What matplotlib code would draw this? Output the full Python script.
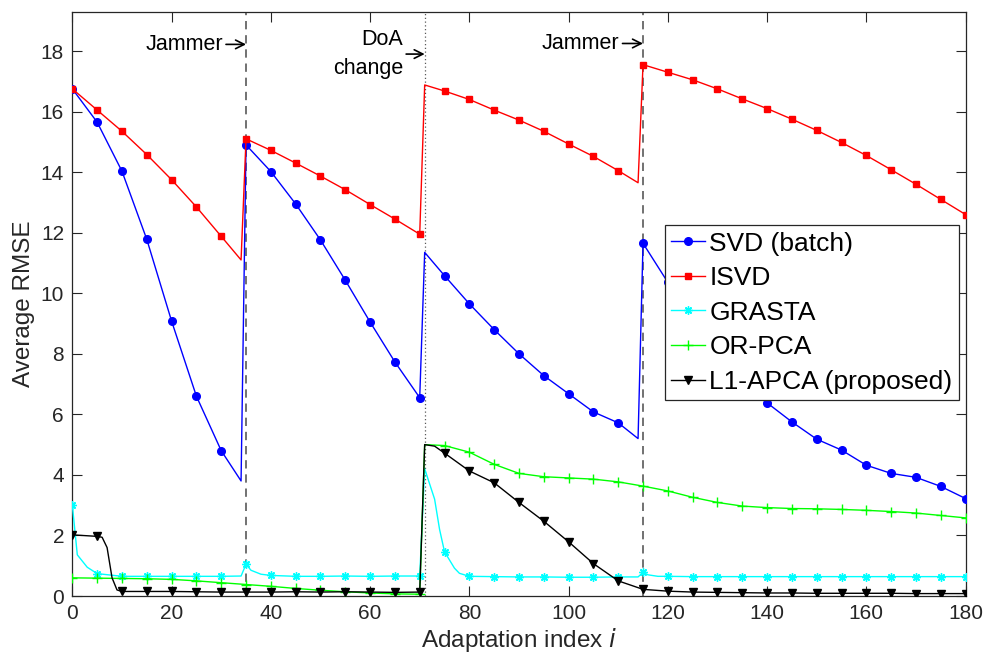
import numpy as np
import matplotlib
matplotlib.use('Agg')
from matplotlib import pyplot as plt

plt.rcParams['font.family'] = ['Liberation Sans', 'DejaVu Sans']

# SVD (batch)
svd_x = [0, 5, 10, 15, 20, 25, 30, 34, 35, 40, 45, 50, 55, 60, 65, 70, 71, 75, 80, 85, 90, 95, 100, 105, 110, 114,
         115, 120, 125, 130, 135, 140, 145, 150, 155, 160, 165, 170, 175, 180]
svd_y = [16.75, 15.65, 14.03, 11.78, 9.08, 6.6, 4.8, 3.8, 14.9, 14.02, 12.95, 11.76, 10.43, 9.05, 7.73, 6.55,
         11.35, 10.58, 9.65, 8.8, 8.0, 7.28, 6.68, 6.08, 5.72, 5.2,
         11.65, 10.36, 9.3, 8.3, 7.3, 6.38, 5.75, 5.18, 4.82, 4.32, 4.05, 3.92, 3.62, 3.22]

# ISVD
isvd_x = [0, 5, 10, 15, 20, 25, 30, 34, 35, 40, 45, 50, 55, 60, 65, 70, 71, 75, 80, 85, 90, 95, 100, 105, 110, 114,
          115, 120, 125, 130, 135, 140, 145, 150, 155, 160, 165, 170, 175, 180]
isvd_y = [16.75, 16.05, 15.35, 14.58, 13.75, 12.85, 11.88, 11.1, 15.1, 14.72, 14.3, 13.87, 13.42, 12.93, 12.45, 11.95,
          16.88, 16.68, 16.4, 16.05, 15.72, 15.35, 14.93, 14.52, 14.05, 13.65,
          17.55, 17.3, 17.05, 16.75, 16.42, 16.1, 15.75, 15.38, 14.98, 14.55, 14.08, 13.6, 13.1, 12.6]

# GRASTA
grasta_x = [0, 1, 3, 5, 10, 15, 20, 25, 30, 34, 35, 36, 38, 40, 45, 50, 55, 60, 65, 70, 71, 73, 74, 75, 77, 78, 80,
            85, 90, 95, 100, 105, 110, 114, 115, 116, 118, 120, 125, 130, 135, 140, 145, 150, 155, 160, 165, 170,
            175, 180]
grasta_y = [3.0, 1.36, 0.95, 0.74, 0.65, 0.65, 0.65, 0.65, 0.65, 0.66, 1.05, 0.85, 0.72, 0.68, 0.65, 0.65, 0.66,
            0.65, 0.66, 0.66, 4.2, 3.2, 2.2, 1.46, 0.92, 0.75, 0.65,
            0.64, 0.63, 0.63, 0.62, 0.62, 0.63, 0.63, 0.78, 0.7, 0.65, 0.65, 0.64, 0.64, 0.64, 0.64, 0.64, 0.64,
            0.64, 0.64, 0.64, 0.64, 0.64, 0.64]

# OR-PCA
orpca_x = [0, 5, 10, 15, 20, 25, 30, 35, 40, 45, 50, 55, 60, 65, 70, 71, 75, 80, 85, 90, 95, 100, 105, 110, 115,
           120, 125, 130, 135, 140, 145, 150, 155, 160, 165, 170, 175, 180]
orpca_y = [0.6, 0.59, 0.58, 0.57, 0.55, 0.5, 0.44, 0.38, 0.32, 0.25, 0.19, 0.14, 0.1, 0.07, 0.06, 5.0, 4.97, 4.75,
           4.35, 4.05, 3.94, 3.9, 3.86, 3.77, 3.63, 3.47, 3.26, 3.09, 2.97, 2.92, 2.89, 2.88, 2.86, 2.83, 2.79,
           2.74, 2.66, 2.58]

# L1-APCA (proposed)
l1_x = [0, 5, 6, 7, 8, 9, 10, 15, 20, 25, 30, 35, 40, 45, 50, 55, 60, 65, 70, 71, 73, 75, 80, 85, 90, 95, 100,
        105, 110, 115, 120, 125, 130, 135, 140, 145, 150, 155, 160, 165, 170, 175, 180]
l1_y = [2.02, 1.97, 1.94, 1.6, 0.6, 0.2, 0.15, 0.15, 0.15, 0.14, 0.13, 0.13, 0.13, 0.14, 0.13, 0.14, 0.13, 0.12,
        0.13, 5.0, 4.95, 4.72, 4.13, 3.74, 3.09, 2.47, 1.79, 1.07, 0.5, 0.22, 0.16, 0.13, 0.12, 0.11, 0.1, 0.1,
        0.09, 0.09, 0.09, 0.09, 0.08, 0.08, 0.08]

event_x = [35, 71, 115]
event_styles = ['--', ':', '--']
event_labels = ['Jammer', 'DoA\nchange', 'Jammer']
label_pos = [(30.4, 18.22), (66.7, 17.9), (110.3, 18.25)]

fig = plt.figure(figsize=(9.87, 6.64), dpi=100)
ax = fig.add_axes([0.0733, 0.1024, 0.905, 0.88])

for xv, ls in zip(event_x, event_styles):
    ax.axvline(xv, color=(0.35, 0.35, 0.35), ls=ls, lw=1.2 if ls == '--' else 0.9, zorder=1,
               dashes=(5, 3.5) if ls == '--' else (1, 2))


def every5(xs):
    return [i for i, v in enumerate(xs) if v % 5 == 0]


ax.plot(svd_x, svd_y, '-o', color='blue', lw=1.0, ms=5.5, markevery=every5(svd_x), label='SVD (batch)', zorder=3)
ax.plot(isvd_x, isvd_y, '-s', color='red', lw=1.0, ms=4.8, markevery=every5(isvd_x), label='ISVD', zorder=3)
ax.plot(grasta_x, grasta_y, '-', marker=(8, 2, 0), color='cyan', lw=1.0, ms=6, mew=1.0,
        markevery=every5(grasta_x), label='GRASTA', zorder=3)
ax.plot(orpca_x, orpca_y, '-+', color=(0, 1, 0), lw=1.0, ms=7, mew=1.0, markevery=every5(orpca_x),
        label='OR-PCA', zorder=3)
ax.plot(l1_x, l1_y, '-v', color='black', lw=1.0, ms=6, markevery=every5(l1_x), label='L1-APCA (proposed)', zorder=3)

for xv, txt, (tx, ty) in zip(event_x, event_labels, label_pos):
    ax.annotate(txt, xy=(xv, ty), xytext=(tx, ty), ha='right', va='center', fontsize=15.5,
                multialignment='right', linespacing=1.45,
                arrowprops=dict(arrowstyle='->', color='black', lw=1.2, shrinkA=0, shrinkB=0))

ax.set_xlim(0, 180)
ax.set_ylim(0, 19.3)
ax.set_xticks(np.arange(0, 181, 20))
ax.set_yticks(np.arange(0, 19, 2))
ax.tick_params(direction='in', length=7, top=True, right=True, labelsize=15, colors=(0.15, 0.15, 0.15),
               labelcolor=(0.15, 0.15, 0.15), pad=6)
for s in ax.spines.values():
    s.set_color((0.15, 0.15, 0.15))
    s.set_linewidth(0.9)

ax.set_xlabel('Adaptation index $\\mathit{i}$', fontsize=17.5, color=(0.15, 0.15, 0.15), labelpad=2)
ax.set_ylabel('Average RMSE', fontsize=17.5, color=(0.15, 0.15, 0.15), labelpad=4)

leg = ax.legend(loc='upper left', bbox_to_anchor=(0.663, 0.635), fontsize=19, frameon=True, fancybox=False,
                framealpha=1, edgecolor=(0.15, 0.15, 0.15), handlelength=1.3, handletextpad=0.15,
                labelspacing=0.4, borderpad=0.25, borderaxespad=0)
leg.get_frame().set_linewidth(0.9)
leg.set_zorder(5)

fig.savefig('out.png', dpi=100)
